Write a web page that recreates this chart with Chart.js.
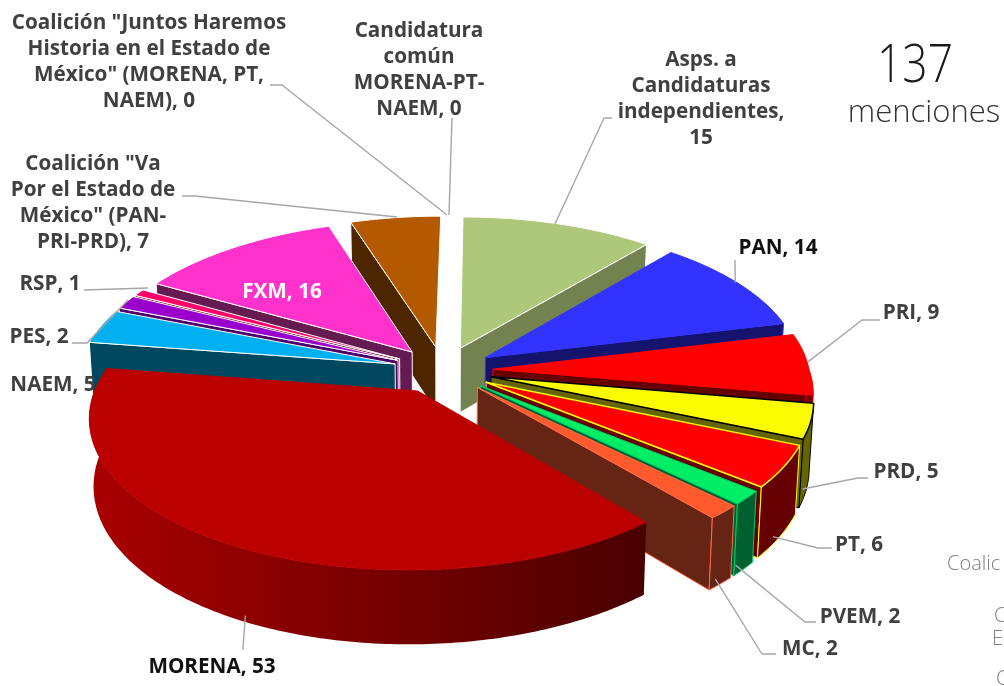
<!DOCTYPE html>
<html><head><meta charset="utf-8">
<style>html,body{margin:0;padding:0;background:#fff}canvas{display:block}</style>
<script src="https://cdn.jsdelivr.net/npm/chart.js@4"></script>
</head><body><canvas id="c" width="1004" height="686"></canvas>
<script>
const categories = ['Asps. a\nCandidaturas\nindependientes','PAN','PRI','PRD','PT','PVEM','MC','MORENA','NAEM','PES','RSP','FXM',
 'Coalición "Va\nPor el Estado de\nMéxico" (PAN-\nPRI-PRD)','Coalición "Juntos Haremos\nHistoria en el Estado de\nMéxico" (MORENA, PT,\nNAEM)','Candidatura\ncomún\nMORENA-PT-\nNAEM'];
const mentions = [15,14,9,5,6,2,2,53,5,2,1,16,7,0,0];
const topColors = ['#ADC77B','#3333FF','#FF0000','#FAFA00','#FF0000','#00EE66','#FF5A2E','#BB0000','#00B0F0','#9900CC','#FF0066','#FF33CC','#B35900','#B35900','#FF9999'];
const wallColors = ['#73834F','#14146E','#660000','#666600','#660000','#006030','#662414','#8A0000','#004860','#4A0066','#7A0033','#661A52','#4D2600','#4D2600','#AA6666'];
const edgeColors = ['#FFFFFF','#3333FF','#FF0000','#000000','#FFFF00','#00CC66','#FF6B45','#BB0000','#FFFFFF','#FFFFFF','#FFFFFF','#FFFFFF','#FFFFFF','#FFFFFF','#FFFFFF'];
const totalText = '137', totalCaption = 'menciones';
const clippedLegend = [['Coalic',947,570],['C',994,622],['Es',992,645],['C',996,685]];

const labelLayout = [
 {x:701,y:66,sep:',\n',lead:[612,118,604,118],drop:0,nudge:[-4,0]},
 {x:778,y:254,color:'#111',lead:[735,260,735,262],drop:0,nudge:[-3,-1]},
 {x:911,y:319,lead:[880,320,862,320],drop:0,nudge:[0,-2]},
 {x:906,y:478,lead:[868,478,858,478],drop:1,nudge:[-4,0]},
 {x:859,y:551,lead:[832,548,818,548],drop:1,nudge:[-7,0]},
 {x:860,y:623,lead:[816,622,805,622],drop:1,nudge:[-8,-4]},
 {x:810,y:655,lead:[776,654,762,654],drop:1,nudge:[-5,-5]},
 {x:212,y:673,color:'#111',lead:[243,650,243,648],drop:1,nudge:[11,-3]},
 {x:53,y:391,lead:null},
 {x:39,y:343,lead:[72,343,87,343],drop:0,nudge:[0,0]},
 {x:50,y:290,lead:[84,290,84,290],drop:0,nudge:[0,0]},
 {x:282,y:298,color:'#FFF',lead:null},
 {x:93,y:170,lead:[182,196,195,196],drop:0,nudge:[0,0]},
 {x:149,y:29,lead:[270,85,282,85],drop:0,nudge:[7,-5]},
 {x:419,y:37,lead:[452,118,452,118],drop:0,nudge:[0,-5]}
];
const fixedEnds = {9:[128,300],10:[148,288],12:[397,217],13:[447,215],14:[449,215]};
const FONT = '"Open Sans", Lato, sans-serif';
const perspBack = 0.09, perspFront = 0.16, squash = 0.47, depth = 65, shrink = 0.012, shear = 0.015;

function project(arc, X, Y, z){
  const R = arc.outerRadius, w = 1 + (Y<0?perspBack:perspFront) * Y / R, s = 1 - z * shrink;
  return [arc.x + (X - shear*Y) * w * s, arc.y + squash * Y * w * s + z * depth * w];
}
function ringPoint(arc, a, z, off){
  const mid = (arc.startAngle + arc.endAngle) / 2;
  const ox = Math.cos(mid) * off, oy = Math.sin(mid) * off;
  return project(arc, ox + Math.cos(a) * arc.outerRadius, oy + Math.sin(a) * arc.outerRadius, z);
}
function apexPoint(arc, z, off){
  const mid = (arc.startAngle + arc.endAngle) / 2;
  return project(arc, Math.cos(mid) * off, Math.sin(mid) * off, z);
}
function fillPoly(ctx, pts, fill, edge, lw){
  ctx.beginPath();
  pts.forEach((p,i)=> i ? ctx.lineTo(p[0],p[1]) : ctx.moveTo(p[0],p[1]));
  ctx.closePath();
  ctx.fillStyle = fill; ctx.fill();
  if (edge){ ctx.strokeStyle = edge; ctx.lineWidth = lw; ctx.lineJoin='round'; ctx.stroke(); }
}
const pie3d = {
  id:'pie3d',
  beforeDatasetDraw(chart){
    const ctx = chart.ctx, meta = chart.getDatasetMeta(0);
    const order = meta.data.map((arc,i)=>i).filter(i=>mentions[i]>0)
      .sort((a,b)=>{
        const m=e=>Math.sin((e.startAngle+e.endAngle)/2);
        return m(meta.data[a]) - m(meta.data[b]);
      });
    const more = ctx.createLinearGradient(100,0,650,0);
    more.addColorStop(0,'#A80000'); more.addColorStop(.5,'#780000'); more.addColorStop(1,'#480000');
    order.forEach(i=>{
      const arc = meta.data[i], off = arc.options.offset;
      const wall = i===7 ? more : wallColors[i], edge = edgeColors[i], top = arc.options.backgroundColor;
      const steps = Math.max(4, Math.ceil((arc.endAngle-arc.startAngle)/0.015));
      const aT=apexPoint(arc,0,off), aB=apexPoint(arc,1,off), topRing=[], botRing=[], frontT=[], frontB=[];
      for(let k=0;k<=steps;k++){
        const a = arc.startAngle + (arc.endAngle-arc.startAngle)*k/steps;
        const t=ringPoint(arc,a,0,off), b=ringPoint(arc,a,1,off);
        topRing.push(t); botRing.push(b);
        if(Math.sin(a)>-0.02){frontT.push(t);frontB.push(b);}
      }
      const wallEdge = i===7 ? null : edge;
      if(Math.cos(arc.startAngle)<0) fillPoly(ctx,[aT,topRing[0],botRing[0],aB],wall,wallEdge,1);
      if(Math.cos(arc.endAngle)>0) fillPoly(ctx,[aT,topRing[steps],botRing[steps],aB],wall,wallEdge,1);
      if(frontT.length>1) fillPoly(ctx,[...frontT,...frontB.reverse()],wall,wallEdge,1);
      fillPoly(ctx,[aT,...topRing],top,edge,i===3||i===4?1.5:1);
    });
    return false;
  },
  afterDraw(chart){
    const ctx = chart.ctx, meta = chart.getDatasetMeta(0);
    ctx.strokeStyle='#A6A6A6'; ctx.lineWidth=1.4; ctx.lineJoin='round';
    labelLayout.forEach((l,i)=>{
      if(!l.lead) return;
      const arc=meta.data[i], mid=(arc.startAngle+arc.endAngle)/2, off=arc.options.offset;
      let e = fixedEnds[i];
      if(!e){
        const p = ringPoint(arc,mid,l.drop,off);
        e=[p[0]+l.nudge[0],p[1]+l.nudge[1]];
      }
      ctx.beginPath(); ctx.moveTo(l.lead[0],l.lead[1]); ctx.lineTo(l.lead[2],l.lead[3]); ctx.lineTo(e[0],e[1]); ctx.stroke();
    });
    ctx.textAlign='center'; ctx.textBaseline='alphabetic';
    ctx.font='700 20.7px '+FONT;
    labelLayout.forEach((l,i)=>{
      ctx.fillStyle=l.color||'#404040';
      (categories[i]+(l.sep||', ')+mentions[i]).split('\n').forEach((t,k)=>ctx.fillText(t,l.x,l.y+k*26));
    });
    ctx.save();
    ctx.translate(915,82); ctx.scale(.82,1);
    ctx.fillStyle='#1A1A1A'; ctx.font='300 54px '+FONT; ctx.fillText(totalText,0,0);
    ctx.restore();
    ctx.font='300 31px '+FONT; ctx.fillStyle='#333333'; ctx.fillText(totalCaption,924,122);
    ctx.font='300 20px '+FONT; ctx.fillStyle='#7F7F7F'; ctx.textAlign='left';
    clippedLegend.forEach(t=>ctx.fillText(t[0],t[1],t[2]));
  }
};
new Chart(document.getElementById('c'),{
  type:'pie',
  data:{labels:categories.map(c=>c.replace(/\n/g,' ')),datasets:[{data:mentions,backgroundColor:topColors,borderColor:edgeColors,offset:50}]},
  options:{responsive:false,animation:false,radius:316,layout:{padding:{right:118,top:54}},
    plugins:{legend:{display:false},tooltip:{enabled:false}}},
  plugins:[pie3d]
});
</script></body></html>
